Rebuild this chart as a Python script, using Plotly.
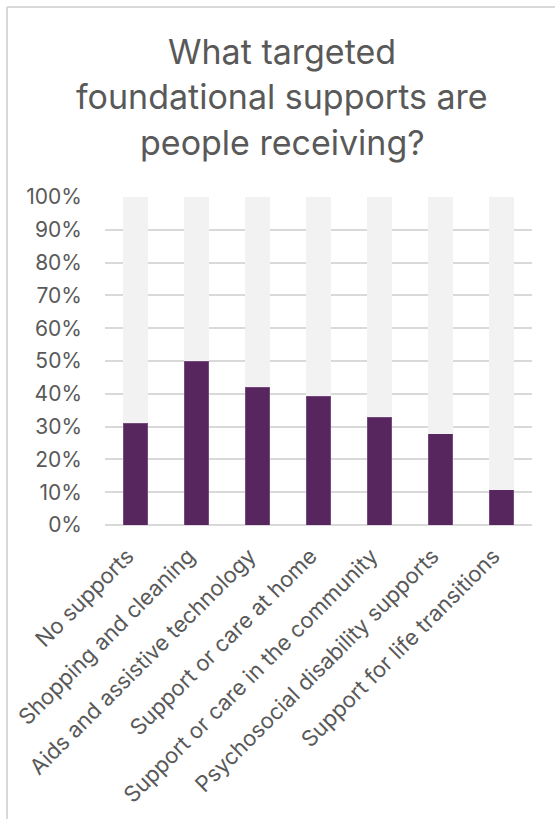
import plotly.graph_objects as go

# Share of people receiving each targeted foundational support
categories = [
    "No supports",
    "Shopping and cleaning",
    "Aids and assistive technology",
    "Support or care at home",
    "Support or care in the community",
    "Psychosocial disability supports",
    "Support for life transitions",
]
receiving = [0.31, 0.50, 0.42, 0.393, 0.328, 0.278, 0.107]
remainder = [1 - v for v in receiving]

title_lines = ["What targeted", "foundational supports are", "people receiving?"]
y_ticks = [i / 10 for i in range(11)]
y_tick_labels = [f"{i * 10}%" for i in range(11)]

FONT = "Inter"
TEXT = "#595959"
GRID = "#d9d9d9"

fig = go.Figure()
fig.add_trace(go.Bar(
    x=categories, y=receiving, name="Receiving",
    marker=dict(color="#58265f", line=dict(color="#7d5284", width=0.8)),
    hoverinfo="x+y",
))
fig.add_trace(go.Bar(
    x=categories, y=remainder, name="Not receiving",
    marker=dict(color="#f2f2f2", line=dict(width=0)),
    hoverinfo="x+y",
))

# Plot area: x 105..532 px, y 197..525 px
L, R, T, B = 105, 23, 197, 294
W, H = 555, 819
pw, ph = W - L - R, H - T - B

def px_x(x):
    return (x - L) / pw

def px_y(y):
    return (H - B - y) / ph

# Title lines placed individually for exact spacing
title_centers = [52, 97, 142]
annotations = [
    dict(text=t, x=px_x(282), y=px_y(yc), xref="paper", yref="paper",
         xanchor="center", yanchor="middle", showarrow=False,
         font=dict(family=FONT, size=34, color=TEXT))
    for t, yc in zip(title_lines, title_centers)
]

# Chart frame (top and left edges)
shapes = [
    dict(type="line", xref="paper", yref="paper",
         x0=px_x(7), x1=px_x(560), y0=px_y(7), y1=px_y(7),
         line=dict(color=GRID, width=2)),
    dict(type="line", xref="paper", yref="paper",
         x0=px_x(7), x1=px_x(7), y0=px_y(7), y1=px_y(830),
         line=dict(color=GRID, width=2)),
]

fig.update_layout(
    width=W, height=H,
    margin=dict(l=L, r=R, t=T, b=B),
    barmode="stack",
    bargap=0.6,
    showlegend=False,
    plot_bgcolor="white",
    paper_bgcolor="white",
    font=dict(family=FONT, color=TEXT),
    annotations=annotations,
    shapes=shapes,
)
fig.update_xaxes(
    tickangle=-45,
    tickfont=dict(family=FONT, size=22, color=TEXT),
    showgrid=False,
    showline=False,
    ticks="",
    ticklabelstandoff=13,
    ticklabelshift=-8,
)
fig.update_yaxes(
    range=[0, 1],
    tickvals=y_ticks,
    ticktext=y_tick_labels,
    tickfont=dict(family=FONT, size=21, color=TEXT),
    showgrid=True,
    gridcolor=GRID,
    gridwidth=2,
    zeroline=True,
    zerolinecolor=GRID,
    zerolinewidth=2,
    showline=False,
    ticks="",
    ticklabelstandoff=22,
)

fig.write_html("out.html")
